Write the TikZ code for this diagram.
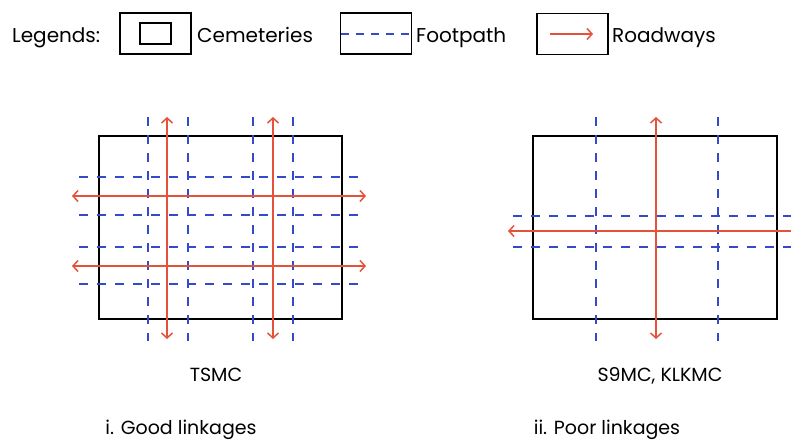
\documentclass[tikz,border=0pt]{standalone}
\usepackage{fontspec}
\setmainfont{Poppins}
\usetikzlibrary{arrows.meta}
\definecolor{footblue}{RGB}{52,74,202}
\definecolor{roadred}{RGB}{228,82,58}
\tikzset{
  cemetery/.style={draw=black,line width=1.5pt,inner sep=0pt},
  legbox/.style={draw=black,line width=1.3pt,inner sep=0pt,minimum width=71pt,minimum height=41pt},
  footpath/.style={draw=footblue,line width=1.7pt,dash pattern=on 9pt off 9pt},
  roadway/.style={roadred,line width=1.5pt,-{Straight Barb[length=5pt,width=11pt,line width=1.5pt]}},
  roadway2/.style={roadway,{Straight Barb[length=5pt,width=11pt,line width=1.5pt]}-{Straight Barb[length=5pt,width=11pt,line width=1.5pt]}},
  lbl/.style={inner sep=0pt,font=\fontsize{19}{22}\selectfont},
  leg/.style={inner sep=0pt,font=\fontsize{20}{22}\selectfont}
}
\begin{document}
\begin{tikzpicture}[x=1pt,y=-1pt]
    \useasboundingbox (0,0) rectangle (791,441);
    % Legends ===============================================
    \node[leg,anchor=base west] (legtitle) at (12,43) {Legends:};
    \node[legbox] (boxcem) at (155.5,33.5) {};
    \node[cemetery,line width=1.3pt,minimum width=31pt,minimum height=21pt] (boxcemin) at (boxcem) {};
    \node[leg,anchor=base west] (txtcem) at (197,43) {Cemeteries};
    \node[legbox] (boxfoot) at (376,33.5) {};
    \coordinate (footA) at (341,34); \coordinate (footB) at (411,34);
    \draw[footpath,dash pattern=on 8pt off 7pt] (footA) -- (footB);
    \node[leg,anchor=base west] (txtfoot) at (416,43) {Footpath};
    \node[legbox] (boxroad) at (572.5,34) {};
    \coordinate (roadA) at (550,34); \coordinate (roadB) at (593,34);
    \draw[roadway] (roadA) -- (roadB);
    \node[leg,anchor=base west] (txtroad) at (612,43) {Roadways};
    % i. Good linkages ======================================
    \node[cemetery,minimum width=243pt,minimum height=183pt] (cemA) at (220.5,227.5) {};
    \foreach \x in {148,188,253,293} \draw[footpath] (\x,117) -- (\x,341);
    \foreach \y in {177,215,247,284} \draw[footpath] (79,\y) -- (365,\y);
    \foreach \x in {167,273} \draw[roadway2] (\x,117) -- (\x,339);
    \foreach \y in {196,266} \draw[roadway2] (72,\y) -- (366,\y);
    \node[lbl,anchor=base] (tsmc) at (216,381) {TSMC};
    \node[lbl,anchor=base] (good) at (181,434) {i. Good linkages};
    % ii. Poor linkages =====================================
    \node[cemetery,minimum width=244pt,minimum height=183pt] (cemB) at (655,227.5) {};
    \foreach \x in {596,718} \draw[footpath] (\x,117) -- (\x,341);
    \foreach \y in {216,247} \draw[footpath] (513,\y) -- (791,\y);
    \draw[roadway2] (656,117) -- (656,339);
    \draw[roadway] (791,231) -- (508,231);
    \node[lbl,anchor=base] (s9mc) at (660,381) {S9MC, KLKMC};
    \node[lbl,anchor=base] (poor) at (607,434) {ii. Poor linkages};
\end{tikzpicture}
\end{document}
